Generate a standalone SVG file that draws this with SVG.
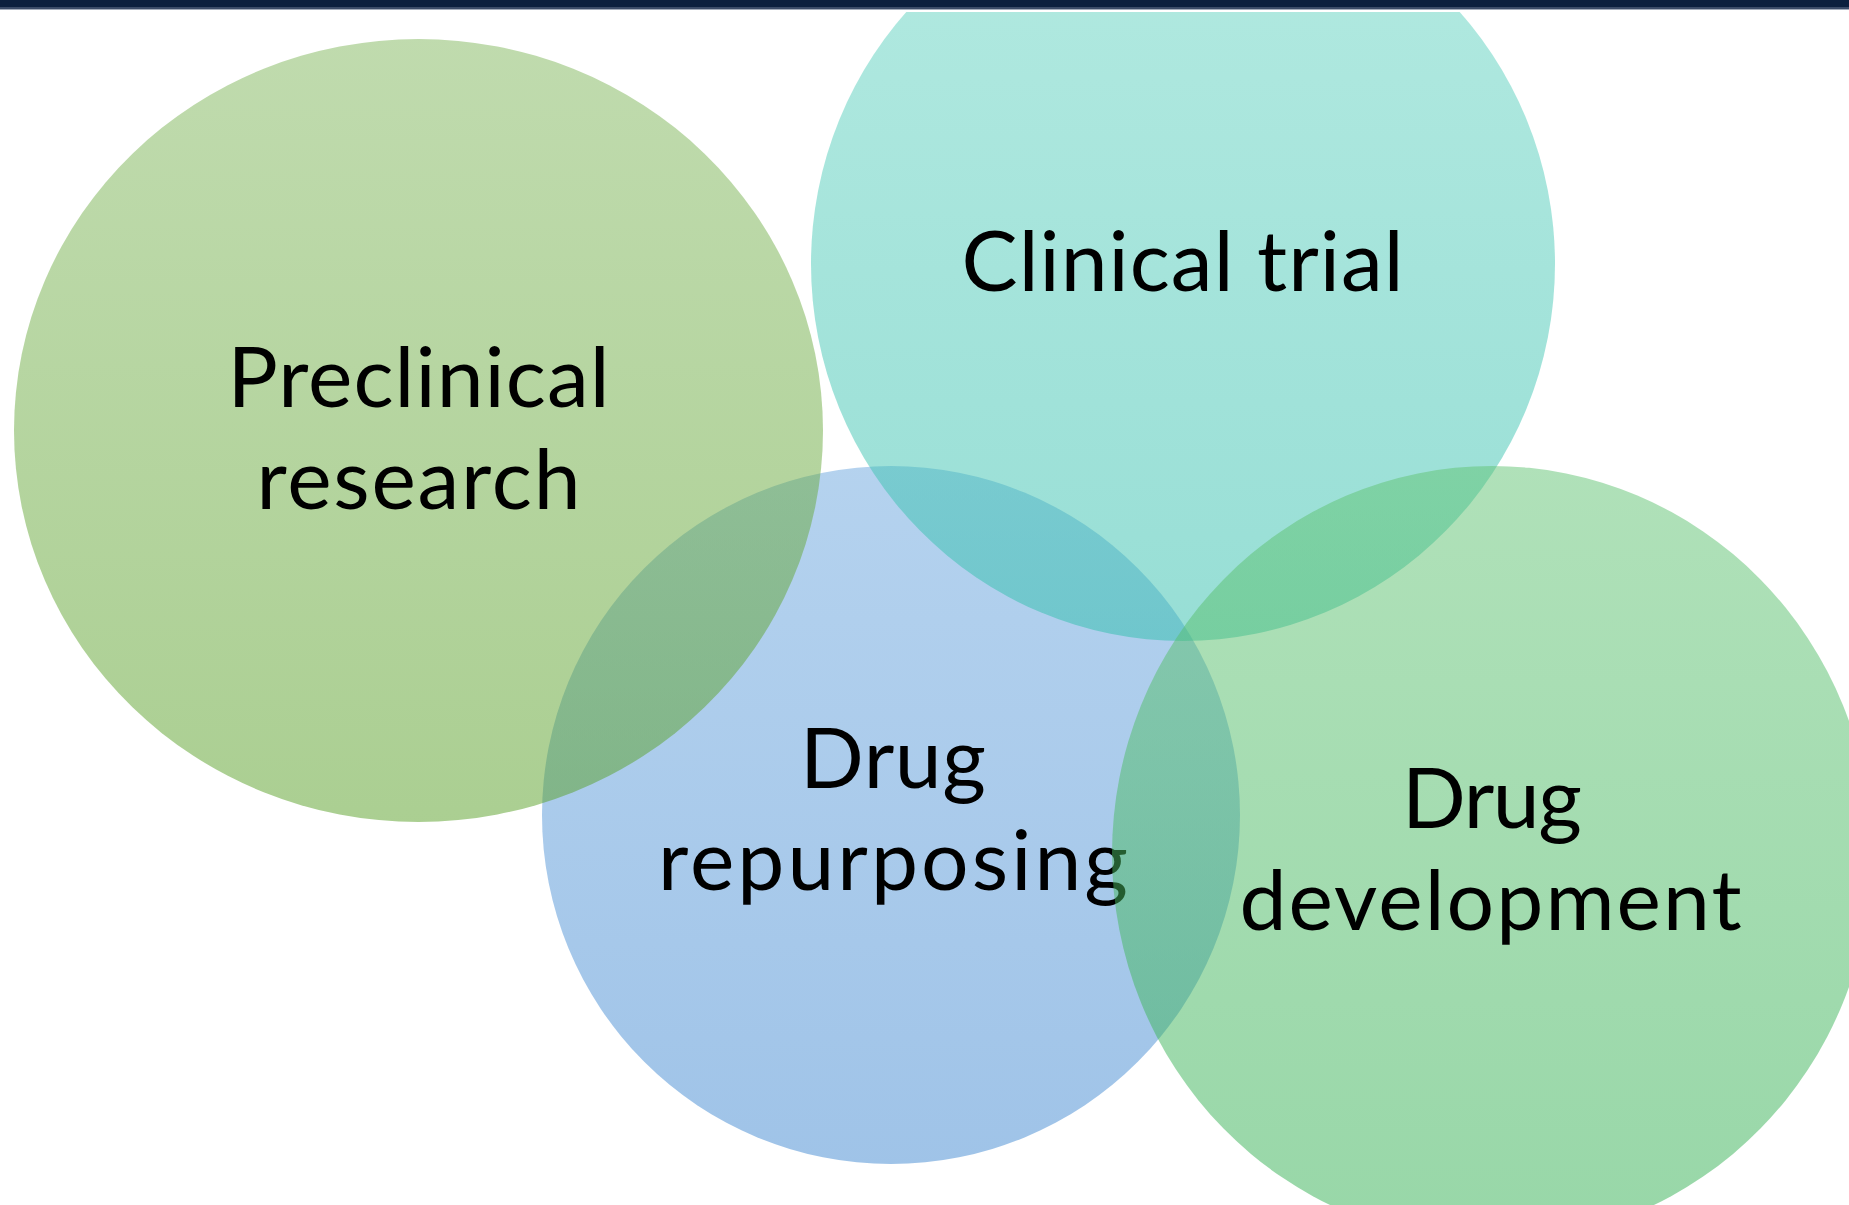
<svg xmlns="http://www.w3.org/2000/svg" width="1849" height="1205" viewBox="0 0 1849 1205">
<defs>
<style>
.lbl{font-family:Lato,"Noto Sans","Liberation Sans",sans-serif;font-size:84px;fill:#000;text-anchor:middle}
.c{fill-opacity:0.5}
</style>
<linearGradient id="gPre" x1="0" y1="0" x2="0" y2="1"><stop offset="0" stop-color="#81b75d"/><stop offset="1" stop-color="#579f25"/></linearGradient>
<linearGradient id="gClin" x1="0" y1="0" x2="0" y2="1"><stop offset="0" stop-color="#68d5c3"/><stop offset="1" stop-color="#30beac"/></linearGradient>
<linearGradient id="gRep" x1="0" y1="0" x2="0" y2="1"><stop offset="0" stop-color="#6ba6de"/><stop offset="1" stop-color="#4088d1"/></linearGradient>
<linearGradient id="gDev" x1="0" y1="0" x2="0" y2="1"><stop offset="0" stop-color="#61c373"/><stop offset="1" stop-color="#31af51"/></linearGradient>
<clipPath id="clipTop"><rect x="0" y="12" width="1849" height="1193"/></clipPath>
</defs>
<rect x="0" y="0" width="1849" height="1205" fill="#ffffff"/>
<g id="header">
<rect x="0" y="0" width="1849" height="7" fill="#0c1f3e"/>
<rect x="0" y="7" width="1849" height="2" fill="#3b4b68"/>
<rect x="0" y="9" width="1849" height="1" fill="#a3abba"/>
</g>
<g id="connectors"></g>
<g id="node-repurposing">
<circle class="c" cx="891" cy="815" r="349" fill="url(#gRep)"/>
<text class="lbl" x="893" y="788" textLength="186" lengthAdjust="spacing">Drug</text>
<text class="lbl" x="893" y="890" textLength="470" lengthAdjust="spacing">repurposing</text>
</g>
<g id="node-preclinical">
<ellipse class="c" cx="418.5" cy="430.5" rx="404.5" ry="391.5" fill="url(#gPre)"/>
<text class="lbl" x="418.5" y="407" textLength="382" lengthAdjust="spacing">Preclinical</text>
<text class="lbl" x="418.5" y="509" textLength="324" lengthAdjust="spacing">research</text>
</g>
<g id="node-clinical">
<ellipse class="c" cx="1183" cy="264" rx="372" ry="377" fill="url(#gClin)" clip-path="url(#clipTop)"/>
<text class="lbl" x="1182.5" y="291" textLength="442" lengthAdjust="spacing">Clinical trial</text>
</g>
<g id="node-development">
<ellipse class="c" cx="1492" cy="854" rx="380" ry="388" fill="url(#gDev)"/>
<text class="lbl" x="1492" y="828" textLength="180" lengthAdjust="spacing">Drug</text>
<text class="lbl" x="1490.5" y="930" textLength="502" lengthAdjust="spacing">development</text>
</g>
</svg>
